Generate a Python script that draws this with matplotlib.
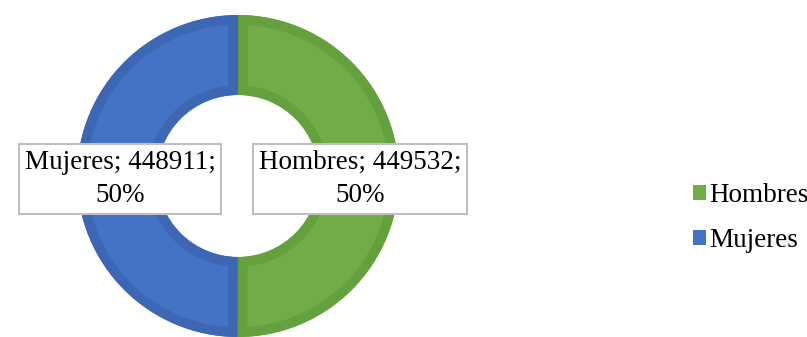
import matplotlib
matplotlib.use("Agg")
import matplotlib.pyplot as plt
from matplotlib.patches import Patch, Wedge

categories = ["Hombres", "Mujeres"]
counts = [449532, 448911]
fill_colors = ["#70AD47", "#4472C4"]
edge_colors = ["#64A03E", "#3D67B3"]

W, H = 807, 337
fig = plt.figure(figsize=(W / 100, H / 100), dpi=100)
ax = fig.add_axes([0, 0, 1, 1])

center = (238, H - 176)
radius = 161
ring = 80

wedges, _ = ax.pie(
    counts,
    colors=fill_colors,
    startangle=90,
    counterclock=False,
    center=center,
    radius=radius,
    wedgeprops=dict(width=ring, linewidth=0),
)
ax.set_xlim(0, W)
ax.set_ylim(0, H)
ax.set_aspect("equal")
ax.axis("off")

# darker inner border on each segment, clipped to the segment itself
for w, ec in zip(wedges, edge_colors):
    border = Wedge(w.center, w.r, w.theta1, w.theta2, width=w.width,
                   fill=False, edgecolor=ec, linewidth=14)
    ax.add_patch(border)
    border.set_clip_path(w)

total = sum(counts)
label_pos = [(360, H - 179), (120, H - 179)]
for name, val, (x, y) in zip(categories, counts, label_pos):
    pct = round(100 * val / total)
    ax.text(
        x, y, f"{name}; {val};\n{pct}%",
        ha="center", va="center", fontsize=19.5,
        family="Liberation Serif", linespacing=1.4,
        bbox=dict(boxstyle="square,pad=0.22", fc="white", ec="#BFBFBF", lw=1.5),
    )

handles = [Patch(facecolor=c, edgecolor="none") for c in fill_colors]
fig.legend(
    handles, categories,
    loc="center left", bbox_to_anchor=(682 / W, 1 - 218 / H),
    frameon=False, handlelength=0.5, handleheight=0.5, handletextpad=0.1,
    labelspacing=0.75, borderaxespad=0,
    prop=dict(family="Liberation Serif", size=19.5),
)

fig.savefig("out.png", dpi=100)
